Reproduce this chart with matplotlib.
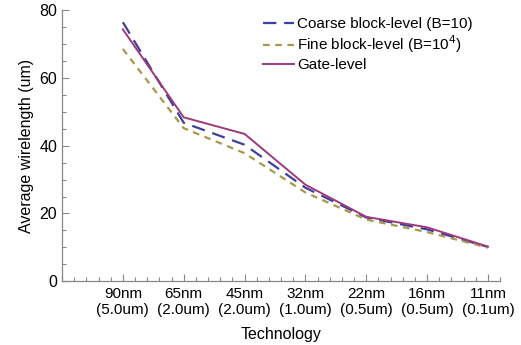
import matplotlib.pyplot as plt
from matplotlib.ticker import MultipleLocator

plt.rcParams['font.family'] = ['Liberation Sans', 'DejaVu Sans']

# data
tech = ['90nm\n(5.0um)', '65nm\n(2.0um)', '45nm\n(2.0um)', '32nm\n(1.0um)',
        '22nm\n(0.5um)', '16nm\n(0.5um)', '11nm\n(0.1um)']
coarse = [76.5, 46.8, 40.3, 27.6, 18.8, 15.3, 10.1]
fine = [68.6, 45.2, 37.8, 26.2, 18.2, 14.5, 9.9]
gate = [74.4, 48.4, 43.5, 28.5, 19.0, 15.9, 10.2]

x = list(range(1, len(tech) + 1))

fig = plt.figure(figsize=(5.21, 3.45), dpi=100)
ax = fig.add_axes([0.119, 0.185, 0.841, 0.785])

ax.plot(x, coarse, color='#3f3f9f', lw=1.6, dashes=(6, 3.5), label='Coarse block-level (B=10)')
ax.plot(x, fine, color='#a8984a', lw=1.6, dashes=(3, 2.5), label='Fine block-level (B=10$^4$)')
ax.plot(x, gate, color='#9e3a7a', lw=1.4, label='Gate-level')

ax.set_xlim(0, 7.2)
ax.set_ylim(0, 80)
ax.set_xticks(x)
ax.set_xticklabels(tech, fontsize=11)
ax.xaxis.set_minor_locator(MultipleLocator(0.2))
ax.set_yticks([0, 20, 40, 60, 80])
ax.yaxis.set_minor_locator(MultipleLocator(5))
ax.tick_params(axis='y', labelsize=11.5)

ax.tick_params(which='both', direction='in', color='#888888', width=0.8)
ax.tick_params(which='major', length=5)
ax.tick_params(which='minor', length=3)
ax.tick_params(axis='x', which='major', pad=4)

for s in ['top', 'right']:
    ax.spines[s].set_visible(False)
for s in ['left', 'bottom']:
    ax.spines[s].set_color('#888888')
    ax.spines[s].set_linewidth(0.9)

ax.set_xlabel('Technology', fontsize=11.5, labelpad=7)
ax.set_ylabel('Average wirelength (um)', fontsize=11.5, labelpad=4)

ax.legend(loc='upper left', bbox_to_anchor=(263 / 521, 1 - 17 / 345),
          bbox_transform=fig.transFigure, frameon=False, fontsize=11,
          handlelength=2.0, handletextpad=0.25, labelspacing=0.18,
          borderpad=0, borderaxespad=0)

fig.savefig('out.png', dpi=100)
